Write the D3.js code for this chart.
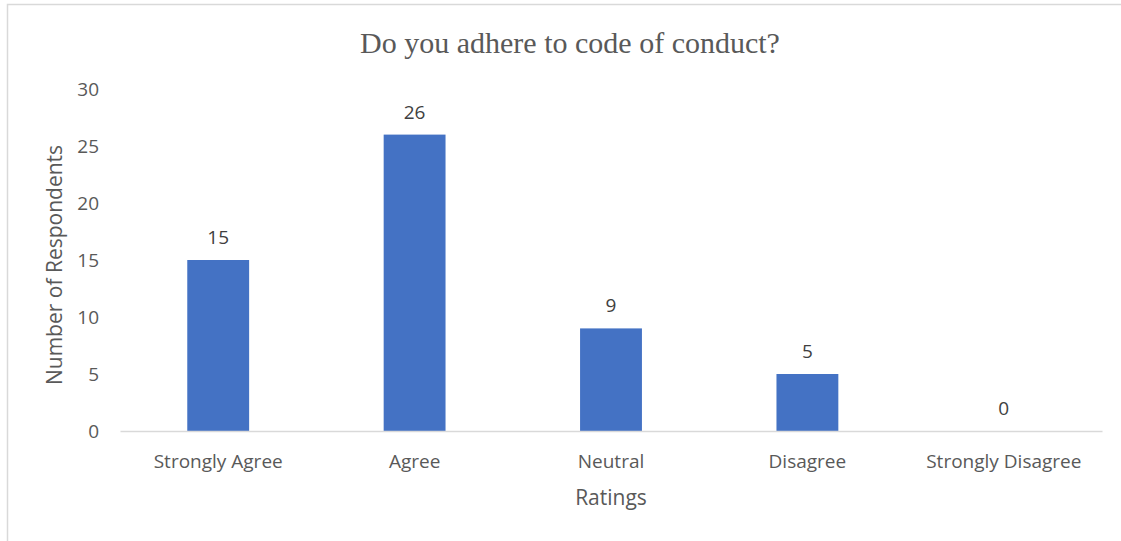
<!DOCTYPE html>
<html><head><meta charset="utf-8">
<script src="https://cdn.jsdelivr.net/npm/d3@7"></script>
<style>body{margin:0;background:#fff}svg{display:block}</style>
</head><body>
<svg id="c" width="1121" height="541"></svg>
<script>
const categories = ["Strongly Agree","Agree","Neutral","Disagree","Strongly Disagree"];
const values = [15,26,9,5,0];
const yTicks = [0,5,10,15,20,25,30];
const title = "Do you adhere to code of conduct?";
const xTitle = "Ratings";
const yTitle = "Number of Respondents";

const svg = d3.select("#c");
const font = "'Open Sans', 'Noto Sans', sans-serif";
const txt = "#595959";
svg.append("rect").attr("x",7.5).attr("y",4.5).attr("width",1130).attr("height",560)
  .attr("fill","#fff").attr("stroke","#d9d9d9").attr("stroke-width",1.5);

const m = {left:120, right:1102, top:89, bottom:431};
const x = d3.scaleBand().domain(categories).range([m.left,m.right]).paddingInner(0.685).paddingOuter(0.3425);
const y = d3.scaleLinear().domain([0,30]).range([m.bottom,m.top]);

svg.append("text").attr("x",570).attr("y",52.5).attr("text-anchor","middle")
  .attr("font-family","'Liberation Serif', 'Times New Roman', serif").attr("font-size",30).attr("fill",txt).text(title);

const yAxis = svg.append("g").attr("transform",`translate(${m.left},0)`)
  .call(d3.axisLeft(y).tickValues(yTicks).tickSize(0).tickPadding(21));
yAxis.select(".domain").remove();
yAxis.selectAll("text").attr("font-family",font).attr("font-size",19).attr("fill",txt);

svg.selectAll("rect.bar").data(values).join("rect").attr("class","bar")
  .attr("x",(d,i)=>x(categories[i])).attr("width",x.bandwidth())
  .attr("y",d=>y(d)).attr("height",d=>y(0)-y(d)).attr("fill","#4472c4");

const xAxis = svg.append("g").attr("transform",`translate(0,${m.bottom})`)
  .call(d3.axisBottom(x).tickSize(0));
xAxis.select(".domain").attr("stroke","#d9d9d9").attr("stroke-width",1.5);
xAxis.selectAll("text").attr("y",37).attr("dy",null).attr("font-family",font).attr("font-size",19).attr("fill",txt);

svg.selectAll("text.lbl").data(values).join("text").attr("class","lbl")
  .attr("x",(d,i)=>x(categories[i])+x.bandwidth()/2).attr("y",d=>y(d)-16)
  .attr("text-anchor","middle").attr("font-family",font).attr("font-size",19).attr("fill","#404040").text(d=>d);

svg.append("text").attr("x",(m.left+m.right)/2).attr("y",505).attr("text-anchor","middle")
  .attr("font-family",font).attr("font-size",21).attr("fill",txt).text(xTitle);
svg.append("text").attr("transform",`translate(62,265) rotate(-90)`).attr("text-anchor","middle")
  .attr("font-family",font).attr("font-size",21).attr("fill",txt).text(yTitle);
</script>
</body></html>
